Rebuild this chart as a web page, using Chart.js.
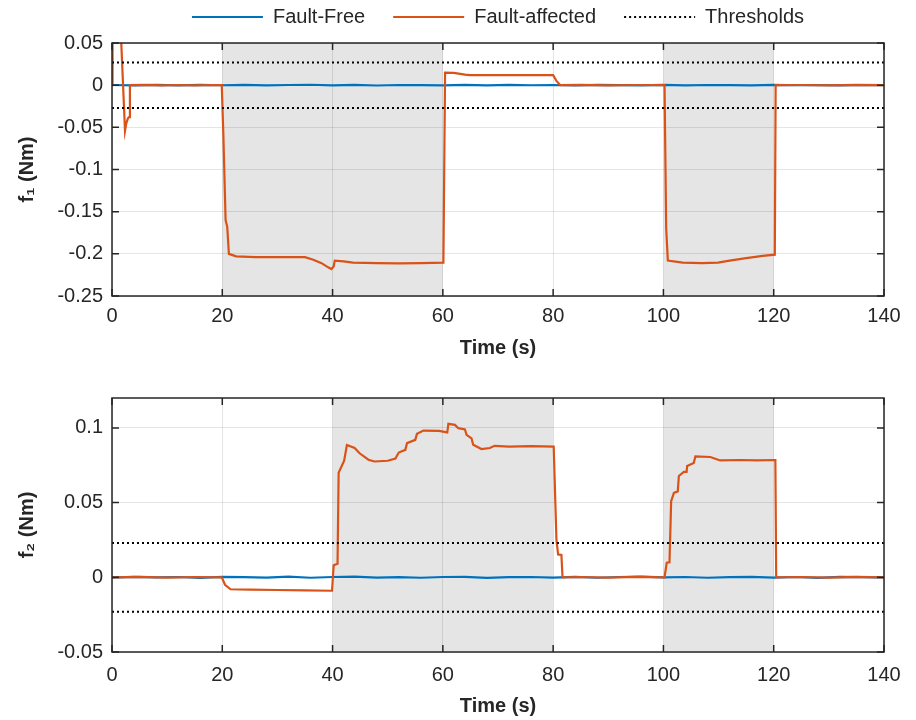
<!DOCTYPE html>
<html><head><meta charset="utf-8">
<script src="https://cdn.jsdelivr.net/npm/chart.js@4.4.0/dist/chart.umd.min.js"></script>
<style>
html,body{margin:0;padding:0;background:#fff;}
#wrap{position:relative;width:916px;height:720px;}
canvas{position:absolute;left:0;}
</style></head><body>
<div id="wrap">
<canvas id="c1" width="916" height="370" style="top:0px"></canvas>
<canvas id="c2" width="916" height="350" style="top:370px"></canvas>
</div>
<script>
// ---------- data ----------
const xTicks = [0, 20, 40, 60, 80, 100, 120, 140];
const y1Ticks = [0.05, 0, -0.05, -0.1, -0.15, -0.2, -0.25];
const y1TickLabels = ['0.05', '0', '-0.05', '-0.1', '-0.15', '-0.2', '-0.25'];
const y2Ticks = [0.1, 0.05, 0, -0.05];
const y2TickLabels = ['0.1', '0.05', '0', '-0.05'];
const faultWindows1 = [[20, 60], [100, 120]];
const faultWindows2 = [[40, 80], [100, 120]];
const threshold1 = 0.027;
const threshold2 = 0.023;

const ffTime = [0,4,8,12,16,20,24,28,32,36,40,44,48,52,56,60,64,68,72,76,80,84,88,92,96,100,104,108,112,116,120,124,128,132,136,140];
const ff1 = [0.0002,-0.0003,0.0004,-0.0002,0.0003,-0.0001,0.0004,-0.0003,0.0002,0.0005,-0.0002,0.0003,-0.0004,0.0002,0.0001,-0.0003,0.0004,-0.0002,0.0003,-0.0001,0.0002,-0.0004,0.0003,0.0001,-0.0002,0.0004,-0.0003,0.0002,0.0001,-0.0002,0.0003,-0.0001,0.0002,-0.0003,0.0002,0.0001];
const ff2 = [-0.0002,0.0003,-0.0001,0.0002,-0.0004,0.0003,0.0001,-0.0002,0.0004,-0.0003,0.0002,0.0005,-0.0002,0.0001,-0.0003,0.0002,0.0003,-0.0004,0.0001,0.0002,-0.0002,0.0003,-0.0003,0.0002,0.0004,-0.0001,0.0002,-0.0003,0.0001,0.0003,-0.0002,0.0002,-0.0004,0.0003,0.0001,-0.0002];

const fa1Time = [
  0, 0.1, 1.55, 2.36, 2.6, 2.9, 3.1, 3.25, 6, 9,
  12, 15, 18, 19.9, 20.2, 20.6, 20.9, 21.2, 22.5, 26,
  30, 35, 36.5, 38, 39.2, 39.8, 40.2, 40.4, 42, 43.7,
  48, 52, 56, 60.1, 60.4, 62, 64, 65, 70, 75,
  80, 80.6, 81.3, 85, 90, 95, 100.2, 100.5, 100.8, 103.5,
  107, 109.9, 112, 115, 118, 120.2, 120.35, 125, 130, 135,
  140];
const fa1 = [
  0, 0.07, 0.07, -0.054, -0.045, -0.039, -0.038, 0, 0.0003, -0.0002,
  0.0002, -0.0003, 0.0002, 0, -0.06, -0.16, -0.168, -0.2, -0.203, -0.204,
  -0.204, -0.204, -0.207, -0.211, -0.216, -0.218, -0.215, -0.208, -0.209, -0.2105,
  -0.211, -0.2112, -0.211, -0.2105, 0.0148, 0.0145, 0.0125, 0.0118, 0.012, 0.0118,
  0.0118, 0.005, 0, 0.0003, -0.0002, 0.0002, 0, -0.17, -0.208, -0.2105,
  -0.211, -0.2105, -0.208, -0.205, -0.2025, -0.201, 0, 0.0002, -0.0002, 0.0003,
  0];

const fa2Time = [
  0, 5, 10, 15, 19.9, 20.5, 21.5, 25, 30, 35,
  39.9, 40.2, 40.9, 41.1, 41.6, 42.1, 42.6, 44, 44.9, 46.5,
  47.6, 50, 51.4, 52, 53.2, 53.5, 55, 55.3, 56.5, 59.3,
  60.8, 61, 62.2, 62.8, 64, 64.3, 65.2, 65.5, 67, 68.5,
  69.4, 72, 76, 80.1, 80.6, 80.9, 81.5, 81.7, 85, 90,
  95, 100.2, 100.6, 101.1, 101.4, 101.9, 102.6, 102.8, 103.7, 104.2,
  104.3, 105.5, 105.8, 108.5, 110.3, 114, 117, 120.3, 120.45, 125,
  130, 135, 140];
const fa2 = [
  0, 0.0003, -0.0002, 0.0002, 0, -0.005, -0.008, -0.0082, -0.0085, -0.0087,
  -0.009, 0.008, 0.009, 0.07, 0.074, 0.078, 0.0885, 0.0865, 0.083, 0.0787,
  0.0775, 0.078, 0.0795, 0.0835, 0.0853, 0.0898, 0.092, 0.096, 0.0982, 0.098,
  0.097, 0.1027, 0.102, 0.0998, 0.099, 0.0953, 0.093, 0.0887, 0.0858, 0.0865,
  0.088, 0.0875, 0.0878, 0.0875, 0.025, 0.0153, 0.015, 0, 0.0002, -0.0002,
  0.0003, 0, 0.0098, 0.01, 0.0509, 0.0565, 0.0575, 0.0678, 0.0705, 0.0705,
  0.0745, 0.0765, 0.0809, 0.0805, 0.0782, 0.0785, 0.0783, 0.0785, 0, 0.0002,
  -0.0002, 0.0003, 0];

// ---------- helpers ----------
const BLUE = '#0072BD', ORANGE = '#D95319', INK = '#262626';
const FONT = "'Liberation Sans', Arial, Helvetica, sans-serif";
Chart.defaults.font.family = FONT;
Chart.defaults.font.size = 20;
Chart.defaults.color = INK;

const pts = (xs, ys) => xs.map((x, i) => ({x, y: ys[i]}));
const thrPts = (t) => [{x: 0, y: t}, {x: 140, y: t}, {x: 140, y: null}, {x: 0, y: -t}, {x: 140, y: -t}];

const framePlugin = {
  id: 'frame',
  beforeDraw(chart, args, o) {
    const {ctx, chartArea: a, scales: {x}} = chart;
    ctx.save();
    ctx.fillStyle = '#e5e5e5';
    (o.windows || []).forEach(([s, e]) => {
      const x0 = x.getPixelForValue(s), x1 = x.getPixelForValue(e);
      ctx.fillRect(x0, a.top, x1 - x0, a.bottom - a.top);
    });
    ctx.restore();
  },
  afterDatasetsDraw(chart) {
    const {ctx, chartArea: a, scales: {x, y}} = chart;
    ctx.save();
    ctx.strokeStyle = INK;
    ctx.lineWidth = 1.5;
    ctx.beginPath();
    x.ticks.forEach(t => {
      const p = x.getPixelForValue(t.value);
      ctx.moveTo(p, a.bottom); ctx.lineTo(p, a.bottom - 7);
      ctx.moveTo(p, a.top); ctx.lineTo(p, a.top + 7);
    });
    y.ticks.forEach(t => {
      const p = y.getPixelForValue(t.value);
      ctx.moveTo(a.left, p); ctx.lineTo(a.left + 7, p);
      ctx.moveTo(a.right, p); ctx.lineTo(a.right - 7, p);
    });
    ctx.stroke();
    ctx.strokeRect(a.left, a.top, a.right - a.left, a.bottom - a.top);
    ctx.restore();
  }
};

function makeChart(id, cfg) {
  const datasets = [
    {label: 'Fault-Free', data: pts(ffTime, cfg.ff), borderColor: BLUE, backgroundColor: BLUE, borderWidth: 2.2, order: 2},
    {label: 'Fault-affected', data: pts(cfg.faT, cfg.fa), borderColor: ORANGE, backgroundColor: ORANGE, borderWidth: 2.2, order: 1},
    {label: 'Thresholds', data: thrPts(cfg.thr), borderColor: '#000', backgroundColor: '#000', borderWidth: 2, borderDash: [2, 3], spanGaps: false, order: 0}
  ];
  return new Chart(document.getElementById(id), {
    type: 'line',
    data: {datasets},
    plugins: [framePlugin],
    options: {
      responsive: false,
      animation: false,
      devicePixelRatio: 1,
      layout: {padding: {top: cfg.padTop, right: 32, left: 0, bottom: 0}},
      elements: {point: {radius: 0}, line: {tension: 0}},
      datasets: {line: {clip: 0}},
      plugins: {
        frame: {windows: cfg.windows},
        tooltip: {enabled: false},
        title: {
          display: cfg.legend, text: '', position: 'top', fullSize: false, weight: 500,
          font: {size: 1, lineHeight: 1}, padding: {top: 5, bottom: 0}
        },
        legend: {
          display: cfg.legend,
          position: 'top',
          fullSize: false,
          labels: {
            boxWidth: 71, boxHeight: 0, padding: 28,
            font: {size: 20},
            color: INK,
            sort: (a, b) => a.datasetIndex - b.datasetIndex
          }
        }
      },
      scales: {
        x: {
          type: 'linear', min: 0, max: 140,
          afterBuildTicks: s => { s.ticks = xTicks.map(v => ({value: v})); },
          afterFit: s => { s.height = cfg.xH; },
          ticks: {padding: cfg.xTickPad, maxRotation: 0, font: {size: 20}, color: INK, callback: v => String(v)},
          grid: {color: 'rgba(0,0,0,0.1)', lineWidth: 1, drawTicks: false},
          border: {display: false},
          title: {display: true, text: 'Time (s)', font: {size: 20, weight: 'bold'}, color: INK, padding: {top: 0, bottom: cfg.xTitlePad}}
        },
        y: {
          type: 'linear', min: cfg.yMin, max: cfg.yMax,
          afterBuildTicks: s => { s.ticks = cfg.yTicks.map(v => ({value: v})); },
          afterFit: s => { s.width = 112; },
          ticks: {padding: 9, font: {size: 20}, color: INK, callback: (v, i) => cfg.yLabels[i]},
          grid: {color: 'rgba(0,0,0,0.1)', lineWidth: 1, drawTicks: false},
          border: {display: false},
          title: {display: true, text: cfg.yTitle, font: {size: 20, weight: 'bold'}, color: INK, padding: {top: 15, bottom: 0}}
        }
      }
    }
  });
}

makeChart('c1', {
  ff: ff1, faT: fa1Time, fa: fa1, thr: threshold1, windows: faultWindows1,
  yMin: -0.25, yMax: 0.05, yTicks: y1Ticks, yLabels: y1TickLabels, yTitle: 'f\u2081 (Nm)',
  legend: true, padTop: -21, xH: 74, xTitlePad: 10, xTickPad: 8
});
makeChart('c2', {
  ff: ff2, faT: fa2Time, fa: fa2, thr: threshold2, windows: faultWindows2,
  yMin: -0.05, yMax: 0.12, yTicks: y2Ticks, yLabels: y2TickLabels, yTitle: 'f\u2082 (Nm)',
  legend: false, padTop: 28, xH: 68, xTitlePad: 2, xTickPad: 11
});
</script>
</body></html>
